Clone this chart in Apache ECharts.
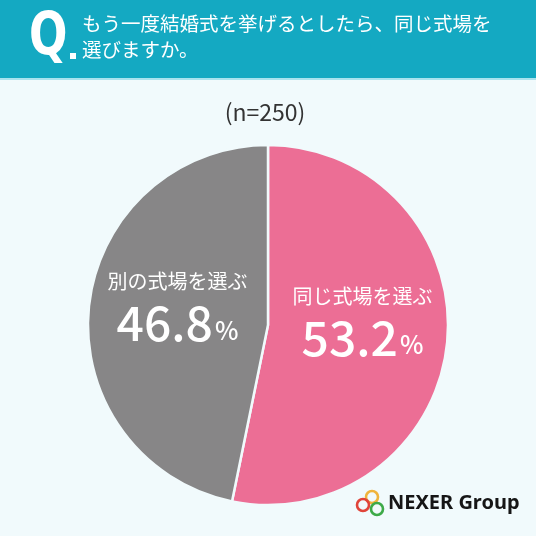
<!DOCTYPE html>
<html><head><meta charset="utf-8">
<script src="https://cdn.jsdelivr.net/npm/echarts@6/dist/echarts.min.js"></script>
<style>html,body{margin:0;padding:0;background:#F1FAFC;}#c{width:536px;height:536px;}</style>
</head><body><div id="c"></div>
<script>
const titleLines = ['もう一度結婚式を挙げるとしたら、同じ式場を', '選びますか。'];
const sampleLabel = '(n=250)';
const categories = ['同じ式場を選ぶ', '別の式場を選ぶ'];
const values = [53.2, 46.8];
const colors = ['#EC6E95', '#878687'];
const labelOffsets = [[2, -12], [2, -8]];

const chart = echarts.init(document.getElementById('c'));
const F = '"Noto Sans CJK JP", "Noto Sans", sans-serif';
chart.setOption({
  backgroundColor: '#F1FAFC',
  animation: false,
  graphic: [
    {type:'rect', shape:{x:0,y:0,width:536,height:78}, style:{fill:'#14A9C2'}},
    {type:'rect', shape:{x:0,y:78,width:536,height:2}, style:{fill:'#A9E3EE'}},
    {type:'text', x:29, y:39, scaleX:0.78, style:{text:'Q', fill:'#fff', font:'bold 58px "DejaVu Sans", sans-serif', verticalAlign:'middle'}},
    {type:'rect', shape:{x:70,y:53,width:6,height:6}, style:{fill:'#fff'}},
    {type:'text', left:82, top:14, style:{text:titleLines[0], fill:'#fff', font:'19.5px ' + F}},
    {type:'text', left:82, top:40, style:{text:titleLines[1], fill:'#fff', font:'19.5px ' + F}},
    {type:'text', x:265, y:112, style:{text:sampleLabel, fill:'#333', font:'23px ' + F, align:'center', verticalAlign:'middle'}},
    {type:'circle', shape:{cx:372,cy:497,r:6}, style:{fill:'none', stroke:'#F0B43C', lineWidth:2.6}},
    {type:'circle', shape:{cx:363,cy:505,r:6}, style:{fill:'none', stroke:'#E0443A', lineWidth:2.6}},
    {type:'circle', shape:{cx:377,cy:509,r:6}, style:{fill:'none', stroke:'#3DAA48', lineWidth:2.6}},
    {type:'text', left:388, top:493, style:{text:'NEXER Group', fill:'#161616', font:'bold 20px "Noto Sans", sans-serif'}}
  ],
  series: [{
    type: 'pie',
    center: [268, 325],
    radius: [0, 180],
    startAngle: 90,
    clockwise: true,
    itemStyle: {borderColor: '#F1FAFC', borderWidth: 2.5},
    label: {
      show: true,
      position: 'inside',
      formatter: p => '{t|' + p.name + '}\n{v|' + p.value.toFixed(1) + '}{p|%}',
      rich: {
        t: {color:'#fff', fontSize:20, fontFamily:F, lineHeight:26, align:'center'},
        v: {color:'#fff', fontSize:48, fontWeight:500, fontFamily:F, lineHeight:52, verticalAlign:'bottom'},
        p: {color:'#fff', fontSize:25, fontWeight:500, fontFamily:F, lineHeight:52, verticalAlign:'bottom', padding:[0,0,4,2]}
      }
    },
    labelLine: {show:false},
    emphasis: {disabled: true},
    data: categories.map((c, i) => ({name: c, value: values[i], itemStyle: {color: colors[i]}, label: {offset: labelOffsets[i]}}))
  }]
});
</script></body></html>
